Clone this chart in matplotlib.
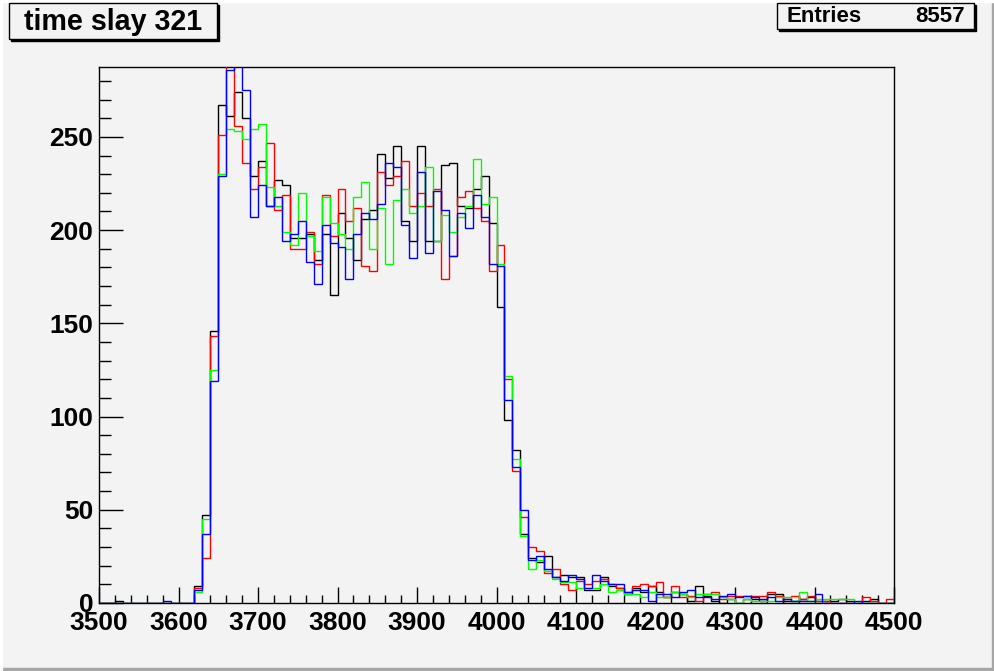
import numpy as np
import matplotlib
matplotlib.use("Agg")
import matplotlib.pyplot as plt
from matplotlib.patches import Rectangle
from matplotlib.ticker import MultipleLocator

plt.rcParams['font.family'] = ['Liberation Sans', 'DejaVu Sans']

title = "time slay 321"
entries = 8557
x_min, x_max, n_bins = 3500, 4500, 100
y_max = 287.5

z12 = [0] * 12
black = [0, 0, 1, 0, 0, 0, 0, 0, 0, 0, 0, 0,
         9, 47, 146, 267, 261, 274, 260, 229, 237, 213, 227, 224, 196, 196, 198, 184,
         198, 165, 209, 196, 184, 206, 211, 241, 228, 245, 205, 194, 245, 194, 194, 235,
         236, 213, 212, 222, 229, 204, 159, 98, 82, 37, 24, 22, 25, 14, 15, 14,
         14, 7, 7, 14, 9, 8, 5, 8, 6, 9, 6, 3, 6, 5, 1, 9,
         4, 1, 0, 2, 0, 2, 2, 1, 5, 5, 1, 1, 2, 3, 1, 1,
         1, 2, 1, 0, 1, 2, 0, 0]
red = z12 + [8, 24, 143, 251, 295, 256, 236, 222, 234, 247, 211, 219, 190, 190, 199, 182,
             219, 197, 222, 205, 212, 181, 178, 231, 224, 229, 237, 213, 220, 213, 222, 174,
             186, 218, 221, 212, 205, 178, 192, 120, 71, 46, 30, 28, 16, 18, 10, 7,
             12, 10, 12, 13, 10, 8, 6, 9, 10, 9, 11, 3, 9, 3, 4, 1,
             5, 6, 2, 4, 4, 4, 4, 4, 6, 4, 2, 4, 2, 4, 1, 1,
             0, 0, 0, 0, 3, 1, 0, 2]
green = z12 + [6, 45, 125, 230, 254, 253, 249, 254, 257, 223, 213, 199, 192, 220, 197, 189,
               218, 204, 198, 190, 218, 226, 190, 212, 182, 216, 222, 209, 213, 234, 194, 208,
               199, 207, 213, 238, 214, 218, 182, 122, 77, 36, 18, 23, 17, 13, 11, 11,
               8, 8, 8, 10, 6, 7, 5, 5, 3, 6, 3, 3, 6, 5, 3, 5,
               5, 5, 3, 2, 0, 2, 1, 1, 1, 3, 3, 1, 6, 1, 2, 2,
               2, 2, 2, 0, 0, 0, 0, 0]
blue = [0, 0, 0, 0, 0, 0, 0, 0, 1, 0, 0, 0,
        7, 37, 119, 229, 286, 300, 275, 207, 224, 213, 218, 194, 198, 205, 183, 171,
        203, 193, 191, 174, 198, 209, 206, 214, 236, 234, 203, 185, 231, 188, 221, 211,
        186, 209, 201, 219, 207, 182, 181, 109, 73, 50, 23, 25, 18, 14, 12, 15,
        13, 8, 15, 12, 10, 10, 6, 7, 7, 1, 5, 5, 3, 6, 7, 3,
        3, 2, 4, 5, 3, 4, 3, 2, 3, 1, 2, 1, 1, 1, 5, 0,
        0, 0, 0, 1, 0, 0, 0, 0]
series = [(black, "#000000"), (red, "#ff0000"), (green, "#00ff00"), (blue, "#0000ff")]

W, H = 995, 671
bg = "#f3f3f3"
fig = plt.figure(figsize=(W / 100, H / 100), dpi=100, facecolor=bg)

# canvas border
fig.patches.append(Rectangle((0, 0), 1, 3 / H, transform=fig.transFigure, color="#a6a6a6", zorder=0))
fig.patches.append(Rectangle((1 - 3 / W, 0), 3 / W, 1, transform=fig.transFigure, color="#a6a6a6", zorder=0))
fig.patches.append(Rectangle((0, 1 - 2 / H), 1, 2 / H, transform=fig.transFigure, color="#ffffff", zorder=0))
fig.patches.append(Rectangle((0, 0), 2 / W, 1, transform=fig.transFigure, color="#ffffff", zorder=0))

L, R, T, B = 99, 894, 67, 603
ax = fig.add_axes([L / W, (H - B) / H, (R - L) / W, (B - T) / H])
ax.set_facecolor(bg)

edges = np.linspace(x_min, x_max, n_bins + 1)
for vals, col in series:
    ax.stairs(vals, edges, baseline=0, color=col, lw=1.0, zorder=3)

ax.set_xlim(x_min, x_max)
ax.set_ylim(0, y_max)
for s in ax.spines.values():
    s.set_linewidth(1.0)
    s.set_color("black")

ax.xaxis.set_major_locator(MultipleLocator(100))
ax.xaxis.set_minor_locator(MultipleLocator(20))
ax.yaxis.set_major_locator(MultipleLocator(50))
ax.yaxis.set_minor_locator(MultipleLocator(10))
ax.tick_params(axis='x', which='major', direction='in', length=11.5, width=1.0, pad=6,
               labelsize=19)
ax.tick_params(axis='x', which='minor', direction='in', length=5.8, width=1.0)
ax.tick_params(axis='y', which='major', direction='in', length=17, width=1.0, pad=4,
               labelsize=19)
ax.tick_params(axis='y', which='minor', direction='in', length=8.6, width=1.0)
for lab in ax.get_xticklabels() + ax.get_yticklabels():
    lab.set_fontweight('bold')

def box(x0, y0, x1, y1):
    sh = 2
    fig.patches.append(Rectangle(((x0 + sh) / W, (H - y1 - sh) / H), (x1 - x0) / W, (y1 - y0) / H,
                                 transform=fig.transFigure, facecolor="black", edgecolor="black", zorder=5))
    fig.patches.append(Rectangle((x0 / W, (H - y1) / H), (x1 - x0) / W, (y1 - y0) / H,
                                 transform=fig.transFigure, facecolor=bg, edgecolor="black", lw=1.0, zorder=6))

box(9, 3, 217, 39)
fig.text((9 + 217) / 2 / W, 1 - 22 / H, title, ha='center', va='center', fontsize=20.6,
         fontweight='bold', zorder=7)

box(777, 3, 974, 29)
fig.text(787 / W, 1 - 17 / H, "Entries", ha='left', va='center', fontsize=16,
         fontweight='bold', zorder=7)
fig.text(965 / W, 1 - 17 / H, f"{entries}", ha='right', va='center', fontsize=16,
         fontweight='bold', zorder=7)

fig.savefig("out.png", dpi=100, facecolor=bg)
